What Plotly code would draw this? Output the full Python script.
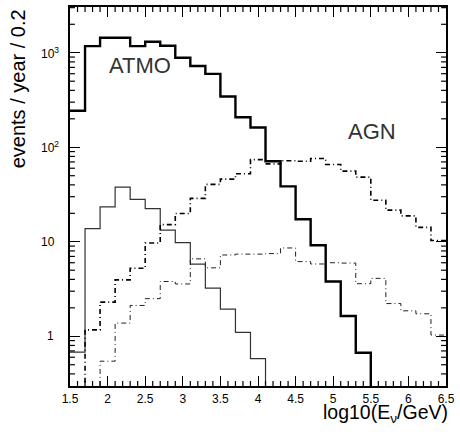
import math
import plotly.graph_objects as go

# ---- data (bin lower edges, width 0.2) ----
bin_left = [1.5, 1.7, 1.9, 2.1, 2.3, 2.5, 2.7, 2.9, 3.1, 3.3, 3.5, 3.7, 3.9,
            4.1, 4.3, 4.5, 4.7, 4.9, 5.1, 5.3, 5.5, 5.7, 5.9, 6.1, 6.3]
bin_right_end = 6.5

atmo_total = [243, 1175, 1440, 1440, 1175, 1306, 1185, 886, 724, 597, 344, 208, 162,
              71, 38.6, 17.3, 9.2, 3.8, 1.64, 0.67, 0, 0, 0, 0, 0]
atmo_cut = [0.68, 13.8, 23.4, 37.9, 28.1, 22.4, 13.3, 9.8, 5.8, 3.23, 1.94, 1.1, 0.58,
            0, 0, 0, 0, 0, 0, 0, 0, 0, 0, 0, 0]
agn_total = [0, 1.17, 2.3, 3.95, 5.24, 9.7, 15.2, 19.9, 28.8, 40.5, 46.0, 52.4, 74,
             66.7, 72, 71, 76, 65.8, 55.9, 48.3, 27.5, 21.6, 18.8, 14.2, 10.3]
agn_cut = [0, 0, 0.545, 1.38, 2.12, 2.5, 3.8, 3.58, 6.6, 5.3, 7.25, 7.4, 7.4,
           7.5, 8.6, 6.17, 5.82, 6.0, 5.95, 3.6, 4.1, 2.22, 1.86, 1.73, 1.03]

x_tick_vals = [1.5, 2, 2.5, 3, 3.5, 4, 4.5, 5, 5.5, 6, 6.5]
x_tick_text = ["1.5", "2", "2.5", "3", "3.5", "4", "4.5", "5", "5.5", "6", "6.5"]
x_minor_vals = [1.6, 1.7, 1.8, 1.9, 2.1, 2.2, 2.3, 2.4, 2.6, 2.7, 2.8, 2.9,
                3.1, 3.2, 3.3, 3.4, 3.6, 3.7, 3.8, 3.9, 4.1, 4.2, 4.3, 4.4,
                4.6, 4.7, 4.8, 4.9, 5.1, 5.2, 5.3, 5.4, 5.6, 5.7, 5.8, 5.9,
                6.1, 6.2, 6.3, 6.4]
y_tick_vals = [1, 10, 100, 1000]
y_tick_text = ["1", "10", "10<sup>2</sup>", "10<sup>3</sup>"]
y_minor_vals = [0.4, 0.5, 0.6, 0.7, 0.8, 0.9, 2, 3, 4, 5, 6, 7, 8, 9,
                20, 30, 40, 50, 60, 70, 80, 90, 200, 300, 400, 500, 600, 700, 800, 900,
                2000, 3000]

X_RANGE = [1.5, 6.5]
Y_RANGE = [-0.526, 3.484]          # log10 units
FLOOR = 1e-3  # empty bins drawn below the visible range

font = "Liberation Sans, Arial, sans-serif"
ML, MR, MT, MB = 70, 8, 5, 53
W, H = 460, 439
PW = W - ML - MR
PH = H - MT - MB


def step(values):
    xs = list(bin_left) + [bin_right_end]
    ys = [v if v > 0 else FLOOR for v in values]
    ys = ys + [ys[-1]]
    return xs, ys


fig = go.Figure()
series = [
    (atmo_total, dict(color="#000000", width=2.4)),
    (atmo_cut, dict(color="#333333", width=1.2)),
    (agn_total, dict(color="#000000", width=1.6, dash="5px,3px,1px,3px")),
    (agn_cut, dict(color="#222222", width=1.0, dash="5px,3px,1px,3px")),
]
for vals, line in series:
    xs, ys = step(vals)
    fig.add_trace(go.Scatter(x=xs, y=ys, mode="lines", line_shape="hv",
                             line=line, hoverinfo="skip", showlegend=False))

# ---- minor tick marks inside the frame on all four sides (lengths in pixels) ----
ylo, yhi = Y_RANGE
xlo, xhi = X_RANGE
tx, ty = [], []
d = 5 / PH * (yhi - ylo)
for v in x_minor_vals:
    tx += [v, v, None, v, v, None]
    ty += [10 ** ylo, 10 ** (ylo + d), None, 10 ** (yhi - d), 10 ** yhi, None]
d = 5 / PW * (xhi - xlo)
for v in y_minor_vals:
    tx += [xlo, xlo + d, None, xhi - d, xhi, None]
    ty += [v, v, None, v, v, None]
fig.add_trace(go.Scatter(x=tx, y=ty, mode="lines", connectgaps=False,
                         line=dict(color="black", width=1.2, simplify=False),
                         hoverinfo="skip", showlegend=False))

fig.update_layout(
    width=W, height=H,
    margin=dict(l=ML, r=MR, t=MT, b=MB),
    paper_bgcolor="white", plot_bgcolor="white",
    showlegend=False,
    font=dict(family=font, color="black"),
    xaxis=dict(range=X_RANGE, tickmode="array", tickvals=x_tick_vals,
               ticktext=x_tick_text, ticks="inside", ticklen=10, tickwidth=1.2,
               tickcolor="black", showline=True, linecolor="black",
               linewidth=1.5, mirror="allticks", showgrid=False, zeroline=False,
               ticklabeloverflow="allow", ticklabelstandoff=1,
               tickfont=dict(size=12, family=font)),
    yaxis=dict(type="log", range=Y_RANGE, tickmode="array",
               tickvals=y_tick_vals, showticklabels=False, ticks="inside",
               ticklen=10, tickwidth=1.2, tickcolor="black",
               showline=True, linecolor="black", linewidth=1.5, mirror="allticks",
               showgrid=False, zeroline=False),
)

ann = []
# y tick labels (ROOT style: base "10" aligned, exponent extends right)
starts = [45, 39, 39, 39]
for v, t, s in zip(y_tick_vals, y_tick_text, starts):
    ann.append(dict(text=t, x=0, xref="paper", xshift=s - ML, xanchor="left",
                    y=math.log10(v), yref="y", yanchor="middle",
                    showarrow=False, font=dict(size=12, family=font)))
# curve labels
ann.append(dict(text="ATMO", x=2.43, y=math.log10(740), xref="x", yref="y",
                showarrow=False, font=dict(size=22, family=font, color="#333")))
ann.append(dict(text="AGN", x=5.51, y=math.log10(147), xref="x", yref="y",
                showarrow=False, font=dict(size=22, family=font, color="#333")))
# axis titles
ann.append(dict(text="log10(E<sub>ν</sub>/GeV)", x=1, xref="paper", xanchor="right",
                xshift=4, y=-(414 - (MT + PH)) / PH, yref="paper", yanchor="middle",
                showarrow=False, font=dict(size=19.5, family=font)))
ann.append(dict(text="events / year / 0.2", textangle=-90, x=(17 - ML) / PW,
                xref="paper", xanchor="center", y=1, yref="paper", yanchor="top",
                showarrow=False, font=dict(size=20, family=font)))
fig.update_layout(annotations=ann)

fig.write_html("out.html", config={"displayModeBar": False},
               post_script="document.body.style.margin='0';")
